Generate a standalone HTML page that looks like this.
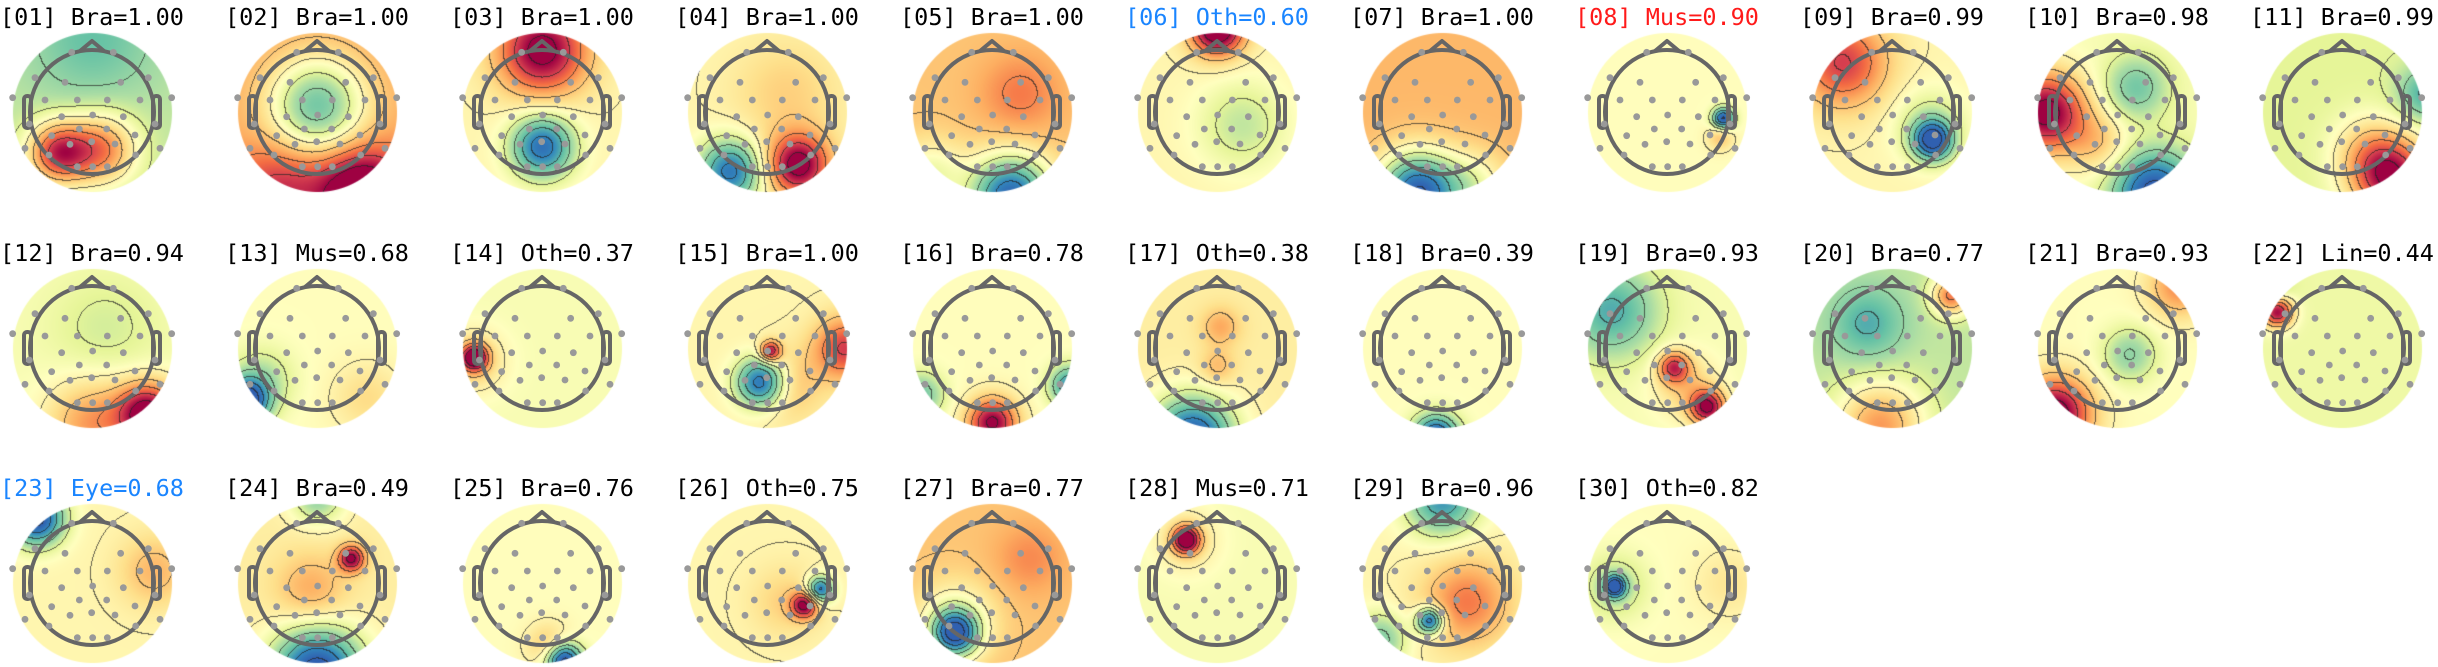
<!DOCTYPE html>
<html><head><meta charset="utf-8"><style>
html,body{margin:0;padding:0;background:#fff;}
#wrap{position:relative;width:2438px;height:667px;overflow:hidden;}
canvas{position:absolute;}
svg{position:absolute;left:0;top:0;}
</style></head><body>
<div id="wrap">
<svg id="ov" width="2438" height="667"></svg>
</div>
<script>
// ---- data ----
const compIds = ["01","02","03","04","05","06","07","08","09","10","11","12","13","14","15","16","17","18","19","20","21","22","23","24","25","26","27","28","29","30"];
const compClass = ["Bra","Bra","Bra","Bra","Bra","Oth","Bra","Mus","Bra","Bra","Bra","Bra","Mus","Oth","Bra","Bra","Oth","Bra","Bra","Bra","Bra","Lin","Eye","Bra","Bra","Oth","Bra","Mus","Bra","Oth"];
const compProb = [1.00,1.00,1.00,1.00,1.00,0.60,1.00,0.90,0.99,0.98,0.99,0.94,0.68,0.37,1.00,0.78,0.38,0.39,0.93,0.77,0.93,0.44,0.68,0.49,0.76,0.75,0.77,0.71,0.96,0.82];
const titleColor = {"06":"#1a85ff","23":"#1a85ff","08":"#ff1a1a"};
const mapBase = [-0.2,0.45,0.1,0.1,0.35,0.1,0.4,0.05,0.1,0.0,-0.1,0.0,0.05,0.0,0.1,0.05,0.15,0.05,0.0,-0.2,0.05,-0.05,0.1,0.15,0.05,0.1,0.35,0.0,0.1,0.05];
const mapSources = [
 [[-0.55,0.65,1.0,0.35],[0.15,0.6,0.75,0.4],[0,-1.2,-0.3,0.7]],
 [[0,-0.1,-0.9,0.55],[0.7,1.3,0.9,0.5],[-0.6,1.2,0.4,0.5]],
 [[0,-1.0,1.0,0.5],[0,0.55,-1.0,0.35]],
 [[0.5,0.85,1.0,0.35],[-0.6,0.95,-0.95,0.35],[0.3,-0.3,0.2,0.6]],
 [[0.3,1.35,-1.3,0.45],[0.45,-0.3,0.25,0.45],[-1.0,1.0,-0.4,0.4]],
 [[0,-1.35,1.2,0.3],[0.4,0.2,-0.3,0.5]],
 [[-0.4,1.3,-1.4,0.45],[0.5,1.2,-0.4,0.4]],
 [[0.9,0.1,-1.1,0.12],[0.85,0.4,0.3,0.15]],
 [[-0.8,-0.8,0.7,0.5],[0.65,0.45,-1.1,0.22],[0.6,0.2,-0.3,0.4]],
 [[-1.15,0,1.1,0.45],[0.6,1.3,-1.1,0.45],[0.3,-0.4,-0.45,0.35],[-0.3,0.5,0.3,0.35]],
 [[0.8,1.05,1.1,0.45],[1.35,-0.3,-0.5,0.3],[0.4,0.6,0.3,0.4]],
 [[0.9,1.05,1.1,0.35],[0,1.2,0.5,0.5],[0.2,-0.3,-0.15,0.6]],
 [[-1.15,0.85,-1.2,0.25],[-0.9,0.5,-0.3,0.35],[0.8,0.8,0.2,0.4]],
 [[-1.1,0.15,1.1,0.15],[-1.1,0.2,0.3,0.35]],
 [[1.25,0,0.7,0.35],[-0.1,0.55,-1.1,0.28],[0.05,0.05,0.9,0.12],[0.3,0.6,0.3,0.4]],
 [[0,1.2,1.0,0.28],[1.25,0.6,-0.8,0.22],[-1.15,0.75,-0.5,0.25]],
 [[-0.4,1.45,-1.2,0.45],[0.05,-0.35,0.3,0.22],[0,0.3,0.25,0.2]],
 [[-0.1,1.45,-1.2,0.25]],
 [[-0.9,-0.6,-0.6,0.5],[0.1,0.3,0.75,0.18],[0.65,0.95,1.0,0.2],[0.3,0.6,0.3,0.35]],
 [[-0.2,1.25,0.7,0.5],[0.95,-0.85,0.8,0.22],[-0.4,-0.4,-0.4,0.4]],
 [[-1.0,1.05,1.1,0.4],[1.0,-1.0,0.5,0.35],[0.2,0.1,-0.4,0.3]],
 [[-1.05,-0.6,1.1,0.18],[-1.1,-0.9,-0.3,0.2]],
 [[-0.9,-1.05,-1.2,0.3],[1.0,-0.2,0.3,0.4]],
 [[0,1.45,-1.3,0.5],[0.55,-0.4,0.9,0.15],[-0.1,0.1,0.3,0.4],[0,-1.4,-0.5,0.3]],
 [[0.35,1.25,-1.2,0.2],[0.1,1.0,0.3,0.25]],
 [[0.85,0.1,-1.0,0.15],[0.6,0.35,0.9,0.15],[0.3,0.3,0.2,0.4]],
 [[-0.6,0.8,-1.2,0.25],[-0.6,0.6,-0.4,0.45],[0.6,-0.4,0.2,0.4]],
 [[-0.5,-0.7,1.1,0.15],[-0.5,-0.7,0.25,0.35]],
 [[0,-1.35,-0.8,0.4],[0.4,0.3,0.5,0.5],[-0.2,0.6,-1.1,0.15],[-1.0,0.9,-0.5,0.3]],
 [[-0.85,0.05,-1.1,0.12],[-0.85,0.05,-0.3,0.35],[1.0,0,0.15,0.4]]
];
// ---- layout ----
const colX0=92, colDX=225, rowY=[112,348,583], R=62, CR=80;
const dotsZ=[[215,157],[340,157],[105,233],[445,233],[195,247],[362,247],[38,293],[515,293],[135,300],[232,300],[322,300],[420,300],[185,350],[278,345],[370,350],[88,372],[465,372],[238,387],[320,387],[155,407],[405,405],[210,433],[275,425],[345,432],[75,445],[480,445],[147,465],[407,465],[232,500],[278,500],[322,500]];
const stops=[[0,[48,96,176]],[0.12,[50,136,189]],[0.25,[102,194,165]],[0.37,[171,221,164]],[0.45,[230,245,152]],[0.52,[255,255,191]],[0.62,[254,224,139]],[0.72,[253,174,97]],[0.82,[244,109,67]],[0.9,[213,62,79]],[1,[158,1,66]]];
function cmap(v){let t=Math.max(0,Math.min(1,(v+1)/2));for(let i=1;i<stops.length;i++){if(t<=stops[i][0]){const a=stops[i-1],b=stops[i];const f=(t-a[0])/(b[0]-a[0]);return [0,1,2].map(k=>a[1][k]+(b[1][k]-a[1][k])*f);}}return stops[stops.length-1][1];}
const NS='http://www.w3.org/2000/svg';
const wrap=document.getElementById('wrap'), ov=document.getElementById('ov');
function mk(tag,attrs,parent){const e=document.createElementNS(NS,tag);for(const k in attrs)e.setAttribute(k,attrs[k]);parent.appendChild(e);return e;}
compIds.forEach((id,i)=>{
  const col=i%11,row=Math.floor(i/11);
  const cx=colX0+col*colDX, cy=rowY[row];
  const S=2*CR+2;
  const cv=document.createElement('canvas');
  cv.width=S;cv.height=S;cv.style.left=(cx-CR-1)+'px';cv.style.top=(cy-CR-1)+'px';
  
  
  wrap.insertBefore(cv,ov);
  const ctx=cv.getContext('2d');const img=ctx.createImageData(S,S);
  const F=new Float32Array(S*S);
  const src=mapSources[i];
  for(let y=0;y<S;y++)for(let x=0;x<S;x++){
    const u=(x-CR-1)/R,w=(y-CR-1)/R;let v=mapBase[i];
    for(const s of src){const dx=u-s[0],dy=w-s[1];v+=s[2]*Math.exp(-(dx*dx+dy*dy)/(2*s[3]*s[3]));}
    F[y*S+x]=v;
  }
  const lev=v=>Math.floor(Math.max(-1.2,Math.min(1.2,v))*4.5+0.5);
  for(let y=0;y<S;y++)for(let x=0;x<S;x++){
    const dx=x-CR-1,dy=y-CR-1,d=Math.sqrt(dx*dx+dy*dy);
    const p=(y*S+x)*4;if(d>CR){img.data[p+3]=0;continue;}
    let c=cmap(F[y*S+x]);
    const l=lev(F[y*S+x]);
    if((x<S-1&&lev(F[y*S+x+1])!==l)||(y<S-1&&lev(F[(y+1)*S+x])!==l)){c=c.map(q=>q*0.3+25);}
    img.data[p]=c[0];img.data[p+1]=c[1];img.data[p+2]=c[2];img.data[p+3]=d>CR-1?Math.round(255*(CR-d)):255;
  }
  ctx.putImageData(img,0,0);
  const g=mk('g',{},ov);
  
  
  const t=mk('text',{x:cx,y:cy-87,'text-anchor':'middle','font-family':'"DejaVu Sans Mono","Liberation Mono",monospace','font-size':'23.5',fill:titleColor[id]||'#000'},g);
  t.textContent='['+id+'] '+compClass[i]+'='+compProb[i].toFixed(2);
  
  
  const hd=mk('g',{stroke:'#666','stroke-width':4,fill:'none','stroke-linejoin':'round'},g);
  
  
  mk('circle',{cx:cx,cy:cy,r:R},hd);
  mk('polyline',{points:`${cx-12},${cy-61} ${cx},${cy-71} ${cx+12},${cy-61}`},hd);
  mk('rect',{x:cx-68,y:cy-16,width:7,height:32,rx:3},hd);
  mk('rect',{x:cx+61,y:cy-16,width:7,height:32,rx:3},hd);
  dotsZ.forEach(d=>{
    const c=mk('circle',{cx:cx+d[0]/3-92,cy:cy+d[1]/3-112,r:3.4,fill:'#999'},g);
    
    
  });
});
</script>
</body></html>
